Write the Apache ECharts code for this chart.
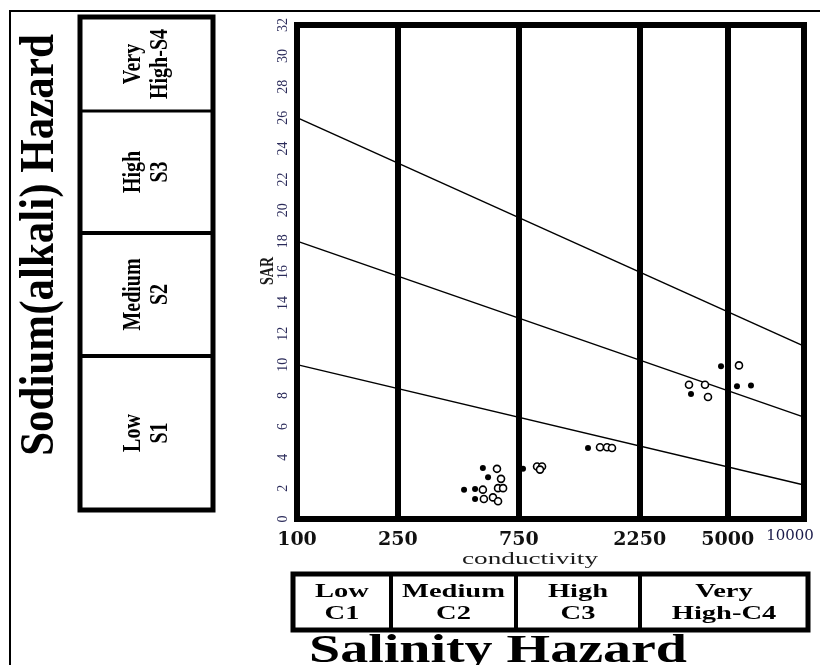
<!DOCTYPE html>
<html><head><meta charset="utf-8">
<script src="https://cdn.jsdelivr.net/npm/echarts@6/dist/echarts.min.js"></script>
<style>html,body{margin:0;padding:0;background:#fff}#c{width:820px;height:665px}</style>
</head><body><div id="c"></div>
<script>
// ---- data ----
const xTickValues = [100, 250, 750, 2250, 5000, 10000];
const classBoundaries = [250, 750, 2250, 5000];
const yTicks = { min: 0, max: 32, step: 2 };
const lineS1S2 = [[100, 10], [10000, 2.2]];
const lineS2S3 = [[100, 18], [10000, 6.6]];
const lineS3S4 = [[100, 26], [10000, 11.2]];
const openSamples = [
  [615, 3.25], [638, 2.6], [541, 1.9], [621, 2.0], [650, 2.0], [546, 1.3], [593, 1.4], [621, 1.15],
  [885, 3.4], [926, 3.4], [909, 3.2],
  [1568, 4.65], [1671, 4.65], [1748, 4.6],
  [5540, 9.95], [3518, 8.7], [4069, 8.7], [4181, 7.9]
];
const filledSamples = [
  [541, 3.3], [567, 2.7], [456, 1.9], [504, 1.95], [504, 1.3],
  [779, 3.25], [1406, 4.6],
  [4706, 9.9], [5441, 8.6], [6178, 8.65], [3583, 8.1]
];
const sodiumClasses = ['Very\nHigh-S4', 'High\nS3', 'Medium\nS2', 'Low\nS1'];
const salinityClasses = ['Low\nC1', 'Medium\nC2', 'High\nC3', 'Very\nHigh-C4'];
const xName = 'conductivity';
const yName = 'SAR';
const sodiumTitle = 'Sodium(alkali) Hazard';
const salinityTitle = 'Salinity Hazard';

// ---- layout / decoration ----
const chart = echarts.init(document.getElementById('c'), null, { renderer: 'canvas' });
const G = [];
G.push({ type: 'rect', shape: { x: 10, y: 11, width: 900, height: 900 }, style: { fill: null, stroke: '#000', lineWidth: 2 }, z: 0 });

// Sodium hazard box
const sL = 80, sR = 213, sEdges = [17, 111, 233, 356, 510];
G.push({ type: 'rect', shape: { x: sL, y: sEdges[0], width: sR - sL, height: sEdges[4] - sEdges[0] }, style: { fill: null, stroke: '#000', lineWidth: 5 }, z: 5 });
for (let i = 1; i < 4; i++) {
  G.push({ type: 'line', shape: { x1: sL, y1: sEdges[i], x2: sR, y2: sEdges[i] }, style: { stroke: '#000', lineWidth: i === 1 ? 3 : 4 }, z: 5 });
}
sodiumClasses.forEach((t, i) => {
  G.push({ type: 'text', x: (sL + sR) / 2, y: (sEdges[i] + sEdges[i + 1]) / 2, rotation: Math.PI / 2, scaleY: 1.3,
    style: { text: t, x: 0, y: 0, align: 'center', verticalAlign: 'middle', font: 'bold 20px "Liberation Serif"', lineHeight: 21, fill: '#000' }, z: 6 });
});
G.push({ type: 'text', x: 41, y: 245, rotation: Math.PI / 2, scaleY: 1.12,
  style: { text: sodiumTitle, x: 0, y: 0, align: 'center', verticalAlign: 'middle', font: 'bold 43px "Liberation Serif"', fill: '#000' }, z: 6 });

// Salinity hazard box
const cT = 574, cB = 630, cEdges = [293, 391, 516, 640, 808];
G.push({ type: 'rect', shape: { x: cEdges[0], y: cT, width: cEdges[4] - cEdges[0], height: cB - cT }, style: { fill: null, stroke: '#000', lineWidth: 5 }, z: 5 });
for (let i = 1; i < 4; i++) {
  G.push({ type: 'line', shape: { x1: cEdges[i], y1: cT, x2: cEdges[i], y2: cB }, style: { stroke: '#000', lineWidth: 4 }, z: 5 });
}
salinityClasses.forEach((t, i) => {
  G.push({ type: 'text', x: (cEdges[i] + cEdges[i + 1]) / 2, y: (cT + cB) / 2 + 1, scaleX: 1.5,
    style: { text: t, x: 0, y: 0, align: 'center', verticalAlign: 'middle', font: 'bold 19px "Liberation Serif"', lineHeight: 22, fill: '#000' }, z: 6 });
});
G.push({ type: 'text', x: 498, y: 652, scaleX: 1.4,
  style: { text: salinityTitle, x: 0, y: 0, align: 'center', verticalAlign: 'middle', font: 'bold 40px "Liberation Serif"', fill: '#000' }, z: 6 });
G.push({ type: 'text', x: 530, y: 560, scaleX: 1.6,
  style: { text: xName, x: 0, y: 0, align: 'center', verticalAlign: 'middle', font: '17px "Liberation Serif"', fill: '#1a1a1a' }, z: 6 });
G.push({ type: 'text', x: 268, y: 271, rotation: Math.PI / 2, scaleY: 1.3,
  style: { text: yName, x: 0, y: 0, align: 'center', verticalAlign: 'middle', font: 'bold 14px "Liberation Serif"', fill: '#1a1a1a' }, z: 6 });

const option = {
  animation: false,
  backgroundColor: '#fff',
  grid: { left: 297, right: 16, top: 25, bottom: 146, outerBoundsMode: 'none', containLabel: false,
    show: true, borderColor: '#000', borderWidth: 6, backgroundColor: 'transparent' },
  xAxis: {
    type: 'log', logBase: 10, min: 100, max: 10000,
    axisLine: { show: false }, axisTick: { show: false }, splitLine: { show: false },
    axisLabel: {
      customValues: xTickValues,
      margin: 12, hideOverlap: false,
      fontFamily: 'DejaVu Serif', fontWeight: 'bold', fontSize: 19, color: '#111',
      formatter: v => (v === 10000 ? '{s|' + v + '}' : String(v)),
      rich: { s: { fontFamily: 'DejaVu Serif', fontWeight: 'normal', fontSize: 15, lineHeight: 10, color: '#1a1a4a', padding: [0, 28, 0, 0] } }
    }
  },
  yAxis: {
    type: 'value', min: yTicks.min, max: yTicks.max, interval: yTicks.step,
    axisLine: { show: false }, axisTick: { show: false }, splitLine: { show: false },
    axisLabel: { rotate: 90, margin: 7, fontFamily: 'Liberation Serif', fontSize: 14, color: '#2b2b5a' }
  },
  series: [
    { type: 'line', data: lineS1S2, symbol: 'none', lineStyle: { color: '#000', width: 1.5 }, z: 3,
      markLine: { symbol: 'none', silent: true, label: { show: false }, lineStyle: { color: '#000', width: 6, type: 'solid' },
        data: classBoundaries.map(v => ({ xAxis: v })) } },
    { type: 'line', data: lineS2S3, symbol: 'none', lineStyle: { color: '#000', width: 1.5 }, z: 3 },
    { type: 'line', data: lineS3S4, symbol: 'none', lineStyle: { color: '#000', width: 1.5 }, z: 3 },
    { type: 'scatter', data: openSamples, symbol: 'circle', symbolSize: 7,
      itemStyle: { color: '#fff', borderColor: '#000', borderWidth: 1.6, opacity: 1 }, z: 4 },
    { type: 'scatter', data: filledSamples, symbol: 'circle', symbolSize: 6,
      itemStyle: { color: '#000', opacity: 1 }, z: 4 }
  ],
  graphic: G
};
chart.setOption(option);
</script></body></html>
